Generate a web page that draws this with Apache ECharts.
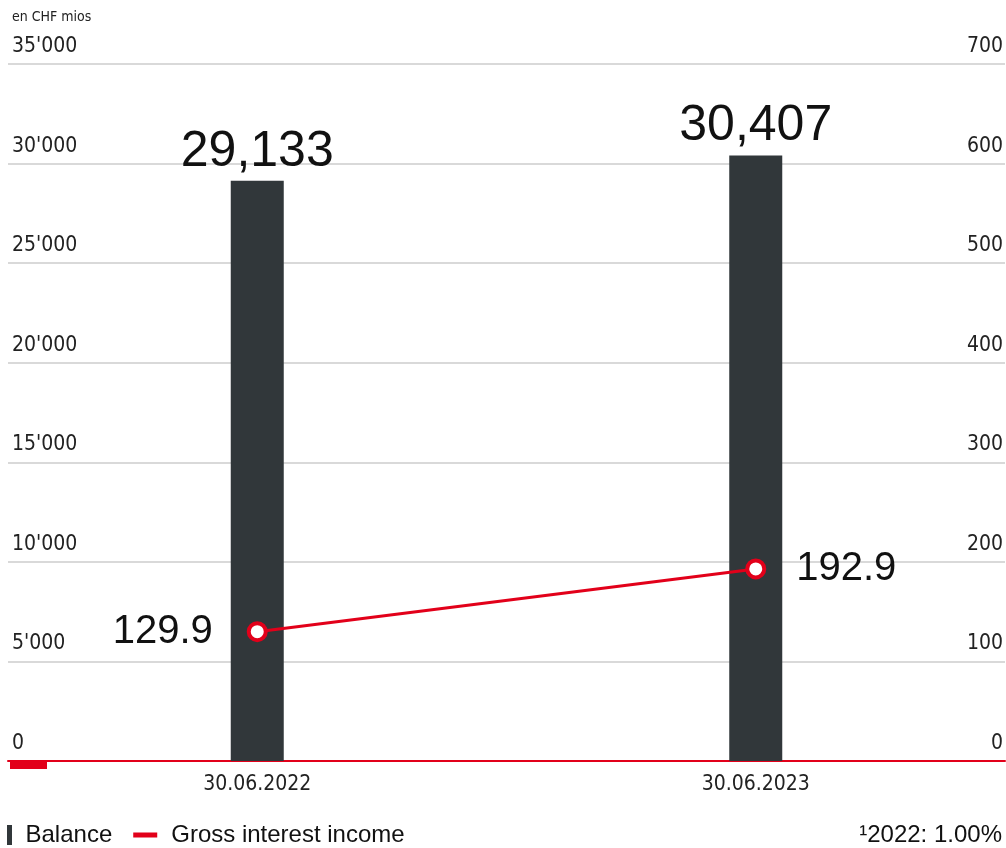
<!DOCTYPE html>
<html>
<head>
<meta charset="utf-8">
<script src="https://cdn.jsdelivr.net/npm/echarts@6/dist/echarts.min.js"></script>
<style>
  html, body { margin: 0; padding: 0; background: #fff; }
  #chart { width: 1006px; height: 848px; }
</style>
</head>
<body>
<div id="chart"></div>
<script>
// Period labels on the category axis
const categories = ['30.06.2022', '30.06.2023'];
// Balance in CHF millions (bars, left axis)
const balance = [29133, 30407];
// Gross interest income in CHF millions (line, right axis)
const grossInterest = [129.9, 192.9];
// Axis ranges
const leftAxis = { min: 0, max: 35000, step: 5000 };
const rightAxis = { min: 0, max: 700, step: 100 };

const RED = '#e2001a';
const DARK = '#31373a';
const GRID = '#d9d9d9';
const NARROW = '"Liberation Sans Narrow", "DejaVu Sans Condensed", "Liberation Sans", sans-serif';
const SANS = '"Liberation Sans", Arial, sans-serif';

const fmtThousands = v => {
  const s = String(Math.round(v));
  return s.replace(/\B(?=(\d{3})+(?!\d))/g, "'");
};

const chart = echarts.init(document.getElementById('chart'));
chart.setOption({
  animation: false,
  grid: { left: 8, right: 1, top: 64, bottom: 87, containLabel: false },
  legend: {
    left: 2,
    bottom: -4,
    itemWidth: 22,
    itemHeight: 20,
    itemGap: 21,
    textStyle: { fontFamily: SANS, fontSize: 24, color: '#111' },
    data: [
      { name: 'Balance', icon: 'path://M0,0h5v20h-5z', itemStyle: { color: DARK } },
      { name: 'Gross interest income', icon: 'path://M0,0h30v4h-30z', itemStyle: { color: RED },
        textStyle: { padding: [0, 0, 0, 10] } }
    ]
  },
  xAxis: {
    type: 'category',
    data: categories,
    boundaryGap: true,
    axisLine: { show: true, lineStyle: { color: RED, width: 2 } },
    axisTick: { show: false },
    axisLabel: { margin: 13, fontFamily: NARROW, fontSize: 21, color: '#222' }
  },
  yAxis: [
    {
      type: 'value',
      min: leftAxis.min,
      max: leftAxis.max,
      interval: leftAxis.step,
      name: 'en CHF mios',
      nameLocation: 'end',
      nameGap: 40,
      nameTextStyle: { fontFamily: NARROW, fontSize: 14, color: '#222', align: 'left', padding: [0, 0, 0, 4] },
      axisLine: { show: false },
      axisTick: { show: false },
      splitLine: { lineStyle: { color: GRID, width: 2 } },
      axisLabel: {
        inside: true,
        margin: 4,
        align: 'left',
        verticalAlign: 'bottom',
        padding: [0, 0, 7, 0],
        fontFamily: NARROW,
        fontSize: 21,
        color: '#222',
        formatter: fmtThousands
      }
    },
    {
      type: 'value',
      min: rightAxis.min,
      max: rightAxis.max,
      interval: rightAxis.step,
      position: 'right',
      axisLine: { show: false },
      axisTick: { show: false },
      splitLine: { show: false },
      axisLabel: {
        inside: true,
        margin: 2,
        align: 'right',
        verticalAlign: 'bottom',
        padding: [0, 0, 7, 0],
        fontFamily: NARROW,
        fontSize: 21,
        color: '#222'
      }
    }
  ],
  series: [
    {
      name: 'Balance',
      type: 'bar',
      yAxisIndex: 0,
      data: balance,
      barWidth: 53,
      itemStyle: { color: DARK },
      label: {
        show: true,
        position: 'top',
        distance: 4,
        fontFamily: SANS,
        fontSize: 50,
        color: '#111',
        formatter: p => p.value.toLocaleString('en-US')
      },
      z: 2
    },
    {
      name: 'Gross interest income',
      type: 'line',
      yAxisIndex: 1,
      data: grossInterest.map((v, i) => ({
        value: v,
        label: i === 0 ? { position: 'left', distance: 34 } : { position: 'right', distance: 30 }
      })),
      symbol: 'circle',
      symbolSize: 17,
      lineStyle: { color: RED, width: 3 },
      itemStyle: { color: '#fff', borderColor: RED, borderWidth: 4 },
      label: {
        show: true,
        fontFamily: SANS,
        fontSize: 40,
        color: '#111',
        formatter: p => p.value.toFixed(1)
      },
      z: 3
    }
  ],
  graphic: [
    // short red marker under the origin of the axis
    { type: 'rect', left: 10, top: 761, shape: { width: 37, height: 8 }, style: { fill: RED } },
    {
      type: 'text',
      right: 4,
      bottom: 1,
      style: { text: '\u00b92022: 1.00%', font: '24px ' + SANS, fill: '#111' }
    }
  ]
});
</script>
</body>
</html>
